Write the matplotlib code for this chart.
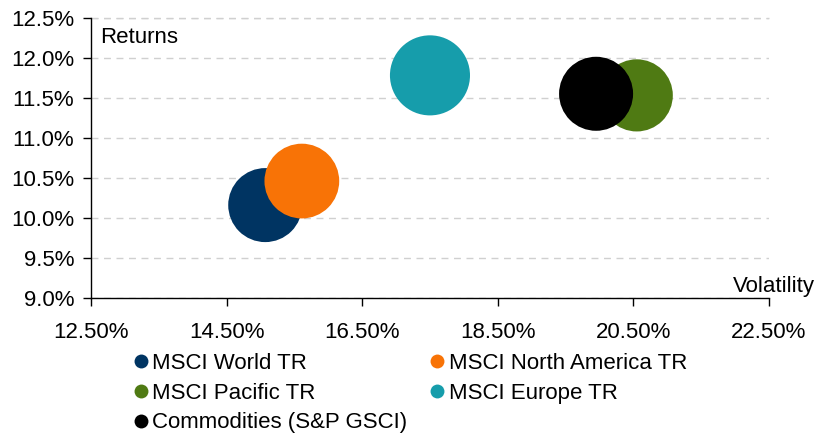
import matplotlib
matplotlib.use("Agg")
import matplotlib.pyplot as plt
from matplotlib.lines import Line2D
from matplotlib.ticker import FuncFormatter

# data
names = ["MSCI World TR", "MSCI North America TR", "MSCI Pacific TR",
         "MSCI Europe TR", "Commodities (S&P GSCI)"]
volatility = [15.07, 15.61, 20.55, 17.50, 19.95]
returns = [10.16, 10.46, 11.53, 11.78, 11.55]
bubble = [1.00, 1.02, 0.95, 1.17, 1.00]
colors = ["#003462", "#F87306", "#4F7A13", "#169DAB", "#000000"]

x_ticks = [12.5, 14.5, 16.5, 18.5, 20.5, 22.5]
y_ticks = [9.0, 9.5, 10.0, 10.5, 11.0, 11.5, 12.0, 12.5]

plt.rcParams["font.family"] = ["Liberation Sans", "DejaVu Sans"]

fig = plt.figure(figsize=(8.19, 4.34), dpi=100)
ax = fig.add_axes([0.1111, 0.3134, 0.9389 - 0.1111, 0.9592 - 0.3134])

# draw in legend order so orange sits over navy, black over green
for i in range(len(names)):
    ax.scatter(volatility[i], returns[i], s=2840 * bubble[i], color=colors[i],
               edgecolors="none", zorder=3, clip_on=False)

ax.set_xlim(12.5, 22.5)
ax.set_ylim(9.0, 12.5)
ax.set_xticks(x_ticks)
ax.set_yticks(y_ticks)
ax.xaxis.set_major_formatter(FuncFormatter(lambda v, p: f"{v:.2f}%"))
ax.yaxis.set_major_formatter(FuncFormatter(lambda v, p: f"{v:.1f}%"))
ax.tick_params(axis="x", direction="out", length=6, width=1, pad=11, labelsize=16)
ax.tick_params(axis="y", direction="out", length=6, width=1, pad=6, labelsize=16)

for side in ["top", "right"]:
    ax.spines[side].set_visible(False)
for side in ["left", "bottom"]:
    ax.spines[side].set_linewidth(1)

ax.yaxis.grid(True, linestyle=(0, (5, 4)), color="#d0d0d0", linewidth=1)
ax.set_axisbelow(True)
# top gridline at 12.5%
ax.axhline(12.5, linestyle=(0, (5, 4)), color="#d0d0d0", linewidth=1, clip_on=False)

ax.text(0.013, 0.93, "Returns", transform=ax.transAxes, fontsize=16,
        ha="left", va="center")
ax.text(1.0 + 46 / 678, 0.04, "Volatility", transform=ax.transAxes, fontsize=16,
        ha="right", va="center")

# legend laid out row-wise: matplotlib fills columns first
leg_order = [0, 2, 4, 1, 3]
handles = [Line2D([], [], marker="o", linestyle="none", markersize=10,
                  markerfacecolor=colors[i], markeredgecolor="none") for i in leg_order]
labels = [names[i] for i in leg_order]
fig.legend(handles, labels, loc="upper left", bbox_to_anchor=(0.148, 0.208),
           ncol=2, frameon=False, fontsize=16, handletextpad=0.0,
           columnspacing=0.85, labelspacing=0.4, borderaxespad=0,
           handlelength=1.0)

fig.savefig("out.png", dpi=100)
